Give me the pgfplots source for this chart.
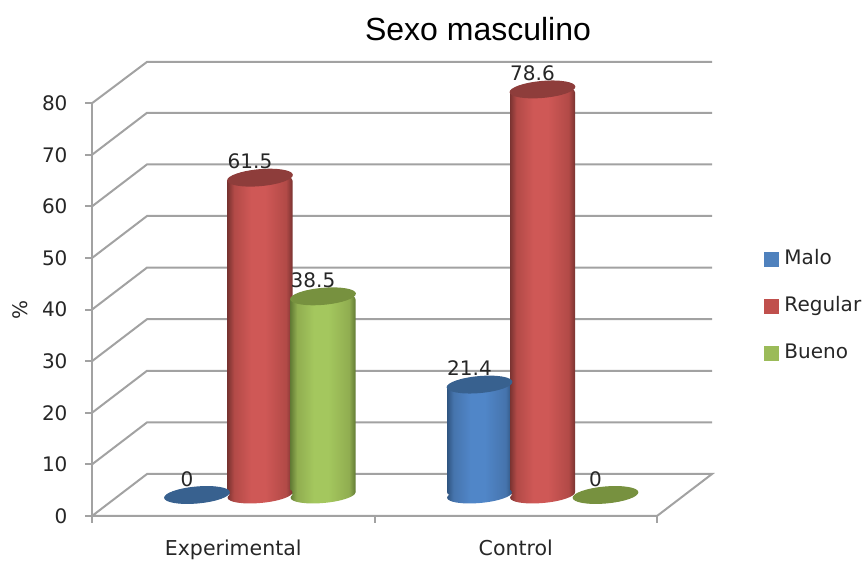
\documentclass[border=0pt]{standalone}
\usepackage{fontspec}
\setmainfont{DejaVu Sans}
\newfontfamily\titlefont{Liberation Sans}
\usepackage{pgfplots}
\usepackage{pgfplotstable}
\pgfplotsset{compat=1.18}

% Percentages per group: 0 = Experimental, 1 = Control
\pgfplotstableread{
g Malo Regular Bueno
0 0 61.5 38.5
1 21.4 78.6 0
}\sexodata

% Cylinder colours
\definecolor{bluecap}{HTML}{38618F}
\definecolor{redcap}{HTML}{8E3D3B}
\definecolor{greencap}{HTML}{77913F}
\definecolor{wallgray}{HTML}{A2A2A2}
\definecolor{labeltext}{HTML}{262626}
\definecolor{keyblue}{HTML}{4F81BD}
\definecolor{keyred}{HTML}{C0504D}
\definecolor{keygreen}{HTML}{9BBB59}

% Body shading of a cylinder, darker at both edges
\newcommand{\bodyshading}[4]{%
  \pgfdeclarehorizontalshading{#1}{100bp}{%
    color(0bp)=(#2); color(25bp)=(#2); color(30bp)=(#3); color(43bp)=(#4);
    color(54bp)=(#4); color(70bp)=(#3); color(75bp)=(#2); color(100bp)=(#2)}}
\definecolor{blueA}{HTML}{2F5480}\definecolor{blueB}{HTML}{4674AD}\definecolor{blueC}{HTML}{5086C8}
\definecolor{redA}{HTML}{7A3331}\definecolor{redB}{HTML}{B24A47}\definecolor{redC}{HTML}{CF5856}
\definecolor{greenA}{HTML}{637C35}\definecolor{greenB}{HTML}{90AD50}\definecolor{greenC}{HTML}{A4C75E}
\bodyshading{cylblue}{blueA}{blueB}{blueC}
\bodyshading{cylred}{redA}{redB}{redC}
\bodyshading{cylgreen}{greenA}{greenB}{greenC}

% Elliptical plot marks, slightly tilted: floor of the cylinder (shaded) and its lid (flat)
\newcommand{\lidellipse}[1]{%
  \pgfsetfillcolor{#1}%
  \pgfpathellipse{\pgfpointorigin}{\pgfpointpolar{5}{33pt}}{\pgfpointpolar{95}{8.5pt}}%
  \pgfusepath{fill}}
\newcommand{\baseellipse}[1]{%
  \pgfpathellipse{\pgfpointorigin}{\pgfpointpolar{5}{32.5pt}}{\pgfpointpolar{95}{8pt}}%
  \pgfshadepath{#1}{0}\pgfusepath{discard}}
\pgfdeclareplotmark{baseblue}{\baseellipse{cylblue}}
\pgfdeclareplotmark{basered}{\baseellipse{cylred}}
\pgfdeclareplotmark{basegreen}{\baseellipse{cylgreen}}
\pgfdeclareplotmark{lidblue}{\lidellipse{bluecap}}
\pgfdeclareplotmark{lidred}{\lidellipse{redcap}}
\pgfdeclareplotmark{lidgreen}{\lidellipse{greencap}}

% One cylinder: floor, body, lid with the value above it.
% #1 column, #2 offset inside the group, #3 colour name, #4 row of the table
\newcommand{\cylinder}[4]{%
  \pgfplotsset{cylrow/.style={skip coords between index={\the\numexpr1-#4\relax}{\the\numexpr2-#4\relax}}}
  \addplot[forget plot,only marks,mark=base#3,cylrow] table[x expr=\thisrow{g}+#2,y expr=0] {\sexodata};
  \addplot[forget plot,ybar,bar width=65pt,bar shift=0pt,draw=none,shading=cyl#3,rounded corners=3pt,cylrow]
    table[x expr=\thisrow{g}+#2,y=#1] {\sexodata};
  \addplot[forget plot,only marks,mark=lid#3,cylrow,
    nodes near coords={\pgfmathprintnumber[fixed,precision=1]{\pgfplotspointmeta}},
    nodes near coords style={anchor=center,xshift=-10pt,yshift=16pt,
      font=\fontsize{20}{22}\selectfont,text=labeltext,
      /pgf/number format/assume math mode=true}]
    table[x expr=\thisrow{g}+#2,y=#1] {\sexodata};
}

\pgfplotsset{
  frame/.style={
    at={(92pt,46pt)},anchor=south west,scale only axis,
    width=620pt,height=454.08pt,clip=false},
  wall/.style={wallgray,line width=2pt,no marks,forget plot},
  legimg/.style={legend image code/.code={%
    \fill[##1,draw=none] (0pt,-7.5pt) rectangle (15pt,7.5pt);
    \path (18pt,0pt);}},
}

\begin{document}
\begin{tikzpicture}[x=1pt,y=1pt]
\path[use as bounding box] (0,0) rectangle (868,562);

% Frame: floor, side wall, back wall and the two axes
\begin{axis}[frame,
  xmin=0,xmax=2.1947,ymin=0,ymax=88,
  axis line style={draw=none},
  tick style={wallgray,line width=2pt},
  major tick length=7pt,
  tick align=outside,
  xtick={0,1,2},xticklabels={},
  extra x ticks={0.5,1.5},
  extra x tick labels={Experimental,Control},
  extra x tick style={major tick length=0pt,
    tick label style={yshift=-20pt,font=\fontsize{20.5}{22}\selectfont}},
  ytick={0,10,...,80},
  xtick pos=bottom,ytick pos=left,
  tick label style={font=\fontsize{20}{22}\selectfont,text=labeltext,
    /pgf/number format/assume math mode=true},
  yticklabel style={xshift=-14pt},
]
\addplot[wall] coordinates {(0,0) (0,80)};
\addplot[wall] coordinates {(0,0) (2,0) (2.1947,8.14) (0.1947,8.14) (0,0)};
\addplot[wall] coordinates {(0,10) (0.1947,18.14) (2.1947,18.14)};
\addplot[wall] coordinates {(0,20) (0.1947,28.14) (2.1947,28.14)};
\addplot[wall] coordinates {(0,30) (0.1947,38.14) (2.1947,38.14)};
\addplot[wall] coordinates {(0,40) (0.1947,48.14) (2.1947,48.14)};
\addplot[wall] coordinates {(0,50) (0.1947,58.14) (2.1947,58.14)};
\addplot[wall] coordinates {(0,60) (0.1947,68.14) (2.1947,68.14)};
\addplot[wall] coordinates {(0,70) (0.1947,78.14) (2.1947,78.14)};
\addplot[wall] coordinates {(0,80) (0.1947,88) (2.1947,88)};
\end{axis}

% Cylinders stand half way back, so zero lies above the front edge of the floor
\begin{axis}[frame,hide axis,
  xmin=-0.5947,xmax=1.6,ymin=-4.07,ymax=83.93,
  legend style={draw=none,fill=none,at={(1.084,0.592)},anchor=north west,
    font=\fontsize{20}{22}\selectfont,text=labeltext,
    nodes={text height=15pt,text depth=5pt},
    row sep=23pt,inner sep=0pt},
  legend cell align=left,
]
\cylinder{Malo}{-0.223}{blue}{0}
\cylinder{Malo}{-0.223}{blue}{1}
\cylinder{Regular}{0}{red}{0}
\cylinder{Regular}{0}{red}{1}
\cylinder{Bueno}{0.223}{green}{0}
\cylinder{Bueno}{0.223}{green}{1}
\addlegendimage{legimg,fill=keyblue}
\addlegendimage{legimg,fill=keyred}
\addlegendimage{legimg,fill=keygreen}
\legend{Malo,Regular,Bueno}
\end{axis}

\node[font=\titlefont\fontsize{32}{36}\selectfont] at (478,533) {Sexo masculino};
\node[rotate=90,font=\fontsize{20}{22}\selectfont,text=labeltext] at (20,252) {\%};
\end{tikzpicture}
\end{document}
